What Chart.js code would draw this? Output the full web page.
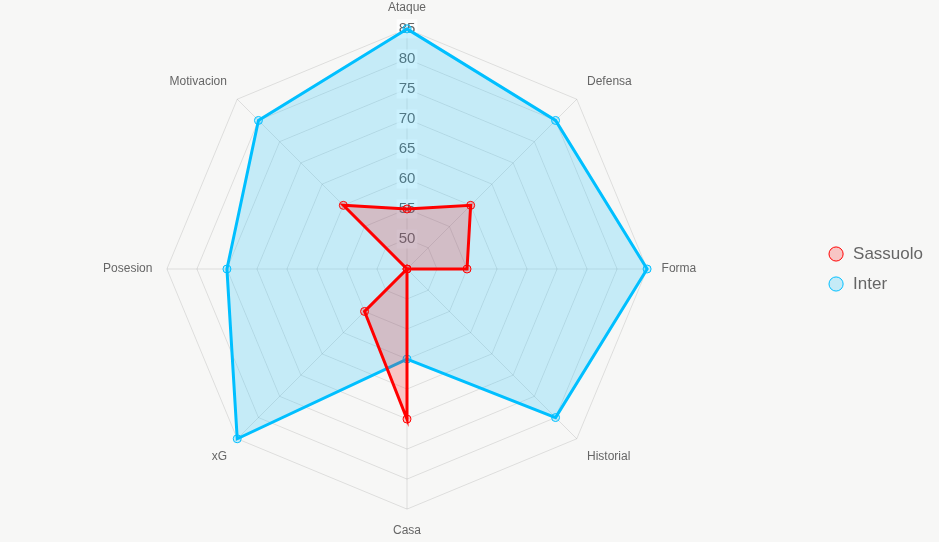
<!DOCTYPE html>
<html>
<head>
<meta charset="utf-8">
<script src="https://cdn.jsdelivr.net/npm/chart.js@4/dist/chart.umd.min.js"></script>
<style>
  html, body { margin: 0; padding: 0; background: #f7f7f6; }
  #wrap { width: 939px; height: 542px; }
</style>
</head>
<body>
<div id="wrap"><canvas id="radar"></canvas></div>
<script>
const labels = ['Ataque', 'Defensa', 'Forma', 'Historial', 'Casa', 'xG', 'Posesion', 'Motivacion'];
const sassuolo = [55, 60, 55, 45, 70, 55, 45, 60];
const inter = [85, 80, 85, 80, 60, 85, 75, 80];

new Chart(document.getElementById('radar').getContext('2d'), {
  type: 'radar',
  data: {
    labels: labels,
    datasets: [
      {
        label: 'Sassuolo',
        data: sassuolo,
        borderColor: 'rgb(255, 0, 0)',
        backgroundColor: 'rgba(255, 0, 0, 0.2)',
        borderWidth: 3,
        pointRadius: 4,
        pointBorderWidth: 1,
        pointBackgroundColor: 'rgba(255, 0, 0, 0.2)',
        pointBorderColor: 'rgb(255, 0, 0)',
      },
      {
        label: 'Inter',
        data: inter,
        borderColor: 'rgb(0, 191, 255)',
        backgroundColor: 'rgba(0, 191, 255, 0.2)',
        borderWidth: 3,
        pointRadius: 4,
        pointBorderWidth: 1,
        pointBackgroundColor: 'rgba(0, 191, 255, 0.2)',
        pointBorderColor: 'rgb(0, 191, 255)',
      },
    ],
  },
  options: {
    responsive: true,
    maintainAspectRatio: false,
    animation: false,
    layout: { padding: { top: 0, bottom: 4, right: 6 } },
    plugins: {
      legend: {
        position: 'right',
        labels: {
          usePointStyle: true,
          pointStyle: 'circle',
          boxWidth: 17,
          boxHeight: 10,
          color: '#666',
          font: { size: 17 },
          padding: 13,
        },
      },
      tooltip: { enabled: false },
    },
    scales: {
      r: {
        min: 45,
        max: 85,
        ticks: { stepSize: 5, color: '#666', font: { size: 15 } },
        pointLabels: { color: '#666', font: { size: 12 } },
        grid: { color: 'rgba(0,0,0,0.1)' },
        angleLines: { color: 'rgba(0,0,0,0.1)' },
      },
    },
  },
});
</script>
</body>
</html>
